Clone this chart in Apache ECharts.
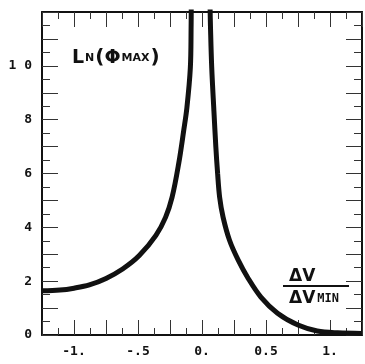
<!DOCTYPE html>
<html>
<head>
<meta charset="utf-8">
<script src="https://cdn.jsdelivr.net/npm/echarts@6/dist/echarts.min.js"></script>
<style>
  html, body { margin: 0; padding: 0; background: #fff; }
  #chart { width: 365px; height: 364px; }
</style>
</head>
<body>
<div id="chart"></div>
<script>
// left branch (dV/dVmin < 0)
const leftX = [-1.25, -1.11, -1.0, -0.88, -0.75, -0.62, -0.49, -0.36, -0.285, -0.234, -0.182, -0.143, -0.118, -0.091, -0.085, -0.084];
const leftY = [1.64, 1.67, 1.74, 1.86, 2.1, 2.45, 2.95, 3.70, 4.37, 5.11, 6.37, 7.59, 8.44, 9.93, 11.5, 12.2];
// right branch (dV/dVmin > 0)
const rightX = [0.063, 0.066, 0.076, 0.093, 0.108, 0.122, 0.138, 0.165, 0.215, 0.283, 0.36, 0.46, 0.59, 0.75, 0.9, 1.06, 1.25];
const rightY = [12.2, 11.5, 9.93, 8.33, 7.0, 6.0, 5.11, 4.37, 3.52, 2.78, 2.11, 1.41, 0.81, 0.37, 0.15, 0.08, 0.06];
// tick labels
const xLabels = { '-1': '-1.', '-0.5': '-.5', '0': '0.', '0.5': '0.5', '1': '1.' };
const yLabels = { 0: '0', 2: '2', 4: '4', 6: '6', 8: '8', 10: '1 0' };

const ink = '#111';
const chart = echarts.init(document.getElementById('chart'));

const xBase = {
  type: 'value', min: -1.25, max: 1.25, interval: 0.25,
  axisLine: { show: true, onZero: false, lineStyle: { color: ink, width: 2 } },
  axisTick: { show: true, inside: true, length: 15, lineStyle: { color: '#333', width: 1 } },
  minorTick: { show: true, splitNumber: 2, length: 7, lineStyle: { color: '#333', width: 1 } },
  splitLine: { show: false }
};
const yBase = {
  type: 'value', min: 0, max: 12, interval: 1,
  axisLine: { show: true, onZero: false, lineStyle: { color: ink, width: 2 } },
  axisTick: { show: true, inside: true, length: 16, lineStyle: { color: '#333', width: 1 } },
  minorTick: { show: true, splitNumber: 2, length: 8, lineStyle: { color: '#333', width: 1 } },
  splitLine: { show: false }
};
const tickFont = { color: ink, fontFamily: 'DejaVu Sans Mono', fontWeight: 'bold', fontSize: 13 };

const option = {
  animation: false,
  grid: { left: 42, right: 2, top: 12, bottom: 29 },
  xAxis: [
    Object.assign({}, xBase, {
      position: 'bottom',
      axisLabel: Object.assign({ margin: 10, showMinLabel: true, showMaxLabel: true,
        formatter: v => xLabels[String(v)] || '' }, tickFont)
    }),
    Object.assign({}, xBase, { position: 'top', axisLabel: { show: false } })
  ],
  yAxis: [
    Object.assign({}, yBase, {
      position: 'left',
      axisLabel: Object.assign({ margin: 10, formatter: v => yLabels[v] || '' }, tickFont)
    }),
    Object.assign({}, yBase, { position: 'right', axisLabel: { show: false } })
  ],
  series: [
    {
      type: 'line', symbol: 'none', smooth: 0.35, clip: true,
      data: leftX.map((x, i) => [x, leftY[i]]),
      lineStyle: { color: ink, width: 5 }
    },
    {
      type: 'line', symbol: 'none', smooth: 0.35, clip: true,
      data: rightX.map((x, i) => [x, rightY[i]]),
      lineStyle: { color: ink, width: 5 }
    }
  ],
  graphic: [
    {
      type: 'text', left: 72, top: 48,
      style: {
        text: '{a|L}{b|N}{c|(}{a|Φ}{b|MAX}{c|)}',
        fill: ink,
        rich: {
          a: { fontFamily: 'DejaVu Sans', fontWeight: 'bold', fontSize: 19, fill: ink },
          b: { fontFamily: 'DejaVu Sans', fontWeight: 'bold', fontSize: 11, fill: ink, padding: [0, 1, 0, 1] },
          c: { fontFamily: 'DejaVu Sans', fontWeight: 'bold', fontSize: 20, fill: ink }
        }
      }
    },
    {
      type: 'text', left: 289, top: 268,
      style: { text: 'ΔV', fill: ink, font: 'bold 17px DejaVu Sans' }
    },
    {
      type: 'line', shape: { x1: 283, y1: 286, x2: 349, y2: 286 },
      style: { stroke: ink, lineWidth: 2 }
    },
    {
      type: 'text', left: 289, top: 290,
      style: {
        text: '{a|ΔV}{b|MIN}', fill: ink,
        rich: {
          a: { font: 'bold 17px DejaVu Sans', fill: ink },
          b: { font: 'bold 12px DejaVu Sans Mono', fill: ink, padding: [0, 0, 0, 2] }
        }
      }
    }
  ]
};
chart.setOption(option);
</script>
</body>
</html>
